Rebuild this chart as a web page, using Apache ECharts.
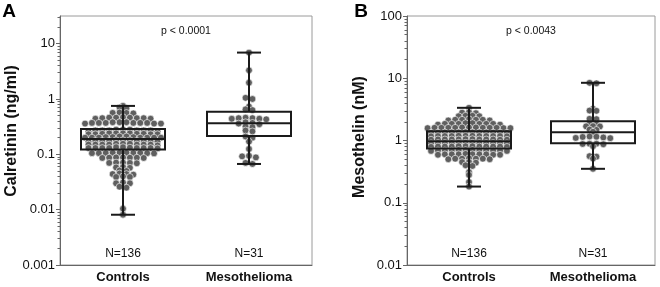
<!DOCTYPE html>
<html>
<head>
<meta charset="utf-8">
<script src="https://cdn.jsdelivr.net/npm/echarts@6/dist/echarts.min.js"></script>
<style>
html,body{margin:0;padding:0;background:#fff;}
#chart{width:660px;height:287px;}
</style>
</head>
<body>
<div id="chart"></div>
<script>
// ---------------- DATA ----------------
const categories = ['Controls', 'Mesothelioma'];

// Panel A: Calretinin (ng/ml)
const calretininControls = [
  0.75,
  0.70, 0.68,
  0.57, 0.56, 0.55, 0.56,
  0.46, 0.45, 0.46, 0.44, 0.45, 0.47, 0.45, 0.46, 0.44,
  0.38, 0.37, 0.37, 0.36, 0.38, 0.37, 0.36, 0.37, 0.38, 0.37, 0.36, 0.37,
  0.28, 0.27, 0.27, 0.26, 0.27, 0.28, 0.27, 0.26, 0.27, 0.27, 0.28,
  0.24, 0.23, 0.235, 0.23, 0.24, 0.235, 0.23, 0.24, 0.23, 0.235, 0.24,
  0.20, 0.205, 0.20, 0.21, 0.20, 0.205, 0.20, 0.20, 0.21, 0.20, 0.205, 0.20,
  0.175, 0.17, 0.18, 0.175, 0.17, 0.175, 0.18, 0.175, 0.17, 0.175, 0.18,
  0.15, 0.155, 0.15, 0.15, 0.155, 0.15, 0.145, 0.15, 0.155, 0.15, 0.15,
  0.13, 0.13, 0.135, 0.13, 0.13, 0.135, 0.13, 0.13, 0.128, 0.13, 0.132,
  0.107, 0.105, 0.106, 0.107, 0.104, 0.106, 0.105, 0.107, 0.106, 0.105,
  0.088, 0.087, 0.086, 0.087, 0.088, 0.086, 0.087,
  0.071, 0.070, 0.069, 0.070, 0.071,
  0.058, 0.057, 0.059,
  0.050, 0.051,
  0.044, 0.045, 0.044, 0.043,
  0.039, 0.040, 0.039,
  0.031, 0.030, 0.030,
  0.026, 0.025,
  0.0104,
  0.0081
];
const calretininMeso = [
  6.9, 3.3, 1.97, 1.05, 1.0, 0.73, 0.65, 0.63,
  0.45, 0.44, 0.46, 0.44, 0.45, 0.43,
  0.38, 0.37, 0.36, 0.35,
  0.32, 0.31, 0.27, 0.26, 0.21, 0.20, 0.17, 0.125,
  0.094, 0.092, 0.088, 0.070, 0.067
];
// [min, Q1, median, Q3, max]
const calretininBox = [
  [0.0081, 0.122, 0.19, 0.288, 0.75],
  [0.067, 0.215, 0.365, 0.59, 6.9]
];

// Panel B: Mesothelin (nM)
const mesothelinControls = [
  3.35,
  2.85, 2.8, 2.75,
  2.5, 2.45, 2.5, 2.45,
  2.15, 2.1, 2.15, 2.2, 2.1, 2.15, 2.15,
  1.85, 1.9, 1.85, 1.8, 1.85, 1.9, 1.85, 1.8, 1.85, 1.85,
  1.6, 1.62, 1.58, 1.6, 1.6, 1.62, 1.58, 1.6, 1.6, 1.62, 1.58, 1.6, 1.6,
  1.35, 1.34, 1.35, 1.33, 1.35, 1.34, 1.36, 1.35, 1.34, 1.35, 1.33, 1.35,
  1.18, 1.19, 1.18, 1.17, 1.18, 1.19, 1.18, 1.18, 1.17, 1.19, 1.18, 1.18,
  1.04, 1.03, 1.04, 1.05, 1.04, 1.03, 1.04, 1.04, 1.03, 1.05, 1.04, 1.04,
  0.91, 0.92, 0.91, 0.90, 0.91, 0.92, 0.91, 0.91, 0.90, 0.92, 0.91, 0.91,
  0.80, 0.81, 0.80, 0.79, 0.80, 0.81, 0.80, 0.80, 0.79, 0.81, 0.80, 0.80,
  0.69, 0.70, 0.69, 0.68, 0.69, 0.70, 0.69, 0.69, 0.68, 0.70, 0.69, 0.69,
  0.60, 0.59, 0.60, 0.61, 0.59, 0.60, 0.60, 0.59, 0.60, 0.60,
  0.51, 0.50, 0.51, 0.52, 0.50, 0.51, 0.51,
  0.45, 0.44, 0.45,
  0.40, 0.39,
  0.31, 0.28, 0.215, 0.182
];
const mesothelinMeso = [
  8.45, 8.3, 3.23, 3.03, 3.0, 2.23, 2.2, 1.82, 1.8,
  1.7, 1.69, 1.68, 1.5, 1.48, 1.38, 1.23,
  1.16, 1.15, 1.14, 1.12, 1.10, 1.09,
  0.89, 0.88, 0.89, 0.87, 0.81, 0.56, 0.55, 0.513, 0.351
];
const mesothelinBox = [
  [0.182, 0.744, 0.975, 1.41, 3.35],
  [0.351, 0.905, 1.36, 2.04, 8.45]
];

const calretininTicks = [0.001, 0.01, 0.1, 1, 10];
const mesothelinTicks = [0.01, 0.1, 1, 10, 100];
const nLabels = ['N=136', 'N=31'];
const pLabels = ['p < 0.0001', 'p < 0.0043'];
const panelLetters = ['A', 'B'];
const yNames = ['Calretinin (ng/ml)', 'Mesothelin (nM)'];

// ---------------- STYLE ----------------
const FONT = "'Liberation Sans', Arial, Helvetica, sans-serif";
const DOT = '#5f5f5f';
const LINE = '#1a1a1a';
const AXIS = '#666';
const BOX_W = 84, CAP_W = 24, DOT_R = 3.4, DOT_GAP = 6.9;

function minorTicks(lo, hi) {
  const out = [];
  for (let e = Math.floor(Math.log10(lo)); e <= Math.ceil(Math.log10(hi)); e++) {
    for (let m = 2; m <= 9; m++) {
      const v = +(m * Math.pow(10, e)).toPrecision(6);
      if (v > lo && v < hi) out.push(v);
    }
  }
  return out;
}

const ranges = [[0.001, Math.pow(10, 1.5)], [0.01, 100]];
const majors = [calretininTicks, mesothelinTicks];

const chart = echarts.init(document.getElementById('chart'), null, {renderer: 'canvas'});

const grids = [
  {left: 60, right: 348, top: 16, bottom: 22},
  {left: 407, right: 5, top: 16, bottom: 22}
].map(g => Object.assign(g, {show: true, borderColor: '#9a9a9a', borderWidth: 1, containLabel: false}));

const xAxes = [0, 1].map(i => ({
  type: 'category', gridIndex: i, data: categories, boundaryGap: true,
  axisLine: {lineStyle: {color: AXIS, width: 1}},
  axisTick: {alignWithLabel: true, length: 4, lineStyle: {color: AXIS}},
  axisLabel: {fontFamily: FONT, fontSize: 13, fontWeight: 'bold', color: '#111', margin: 6},
  splitLine: {show: false}
}));

const yAxes = [];
[0, 1].forEach(i => {
  yAxes.push({
    type: 'log', logBase: 10, gridIndex: i, position: 'left',
    min: ranges[i][0], max: ranges[i][1],
    axisLine: {show: true, lineStyle: {color: AXIS, width: 1}},
    axisTick: {show: true, length: 4, customValues: majors[i], lineStyle: {color: AXIS}},
    axisLabel: {fontFamily: FONT, fontSize: 13, color: '#111', margin: 5,
      customValues: majors[i], formatter: v => String(+(+v).toPrecision(6))},
    splitLine: {show: false}, minorTick: {show: false}
  });
  yAxes.push({
    type: 'log', logBase: 10, gridIndex: i, position: 'left', offset: 0,
    min: ranges[i][0], max: ranges[i][1],
    axisLine: {show: false},
    axisTick: {show: true, length: 2.5, customValues: minorTicks(ranges[i][0], ranges[i][1]), lineStyle: {color: AXIS}},
    axisLabel: {show: false},
    splitLine: {show: false}, minorTick: {show: false}
  });
});

chart.setOption({
  animation: false,
  backgroundColor: '#fff',
  grid: grids,
  xAxis: xAxes,
  yAxis: yAxes,
  series: []
});

// ---------------- SWARM LAYOUT (from axis pixel scale) ----------------
function swarm(values, catIdx, xAxisIndex, yAxisIndex) {
  const pts = values.map(v => ({v, y: chart.convertToPixel({yAxisIndex}, v)}));
  const sorted = pts.slice().sort((a, b) => a.y - b.y);
  const rows = [];
  let cur = null, lastY = null;
  sorted.forEach(p => {
    if (cur && p.y - lastY <= 1.3) cur.push(p); else { cur = [p]; rows.push(cur); }
    lastY = p.y;
  });
  rows.forEach(r => {
    const n = r.length;
    const offs = [];
    for (let i = 0; i < n; i++) offs.push((i - (n - 1) / 2) * DOT_GAP);
    offs.sort((a, b) => Math.abs(a) - Math.abs(b) || a - b);
    r.forEach((p, i) => { p.dx = offs[i]; });
  });
  return pts.map(p => [catIdx, p.v, p.dx]);
}

function dotSeries(data, xi, yi) {
  return {
    type: 'custom', xAxisIndex: xi, yAxisIndex: yi, z: 2,
    encode: {x: 0, y: 1},
    data,
    renderItem: (params, api) => {
      const p = api.coord([api.value(0), api.value(1)]);
      return {type: 'circle', shape: {cx: p[0] + api.value(2), cy: p[1], r: DOT_R},
        style: {fill: DOT, stroke: '#fff', lineWidth: 0.6}};
    }
  };
}

function boxSeries(stats, xi, yi) {
  return {
    type: 'custom', xAxisIndex: xi, yAxisIndex: yi, z: 5,
    encode: {x: 0, y: [1, 2, 3, 4, 5]},
    data: stats.map((s, i) => [i].concat(s)),
    renderItem: (params, api) => {
      const c = api.value(0);
      const pMin = api.coord([c, api.value(1)]);
      const pQ1 = api.coord([c, api.value(2)]);
      const pMed = api.coord([c, api.value(3)]);
      const pQ3 = api.coord([c, api.value(4)]);
      const pMax = api.coord([c, api.value(5)]);
      const cx = Math.round(pQ1[0]);
      const st = {stroke: LINE, lineWidth: 2, fill: null};
      const ln = (x1, y1, x2, y2) => ({type: 'line', shape: {x1, y1, x2, y2}, style: st});
      return {type: 'group', children: [
        ln(cx, pMax[1], cx, pQ3[1]),
        ln(cx, pQ1[1], cx, pMin[1]),
        ln(cx - CAP_W / 2, pMax[1], cx + CAP_W / 2, pMax[1]),
        ln(cx - CAP_W / 2, pMin[1], cx + CAP_W / 2, pMin[1]),
        {type: 'rect', shape: {x: cx - BOX_W / 2, y: pQ3[1], width: BOX_W, height: pQ1[1] - pQ3[1]},
          style: {stroke: LINE, lineWidth: 2, fill: 'rgba(0,0,0,0)'}},
        ln(cx - BOX_W / 2, pMed[1], cx + BOX_W / 2, pMed[1])
      ]};
    }
  };
}

const series = [
  dotSeries(swarm(calretininControls, 0, 0, 0).concat(swarm(calretininMeso, 1, 0, 0)), 0, 0),
  boxSeries(calretininBox, 0, 0),
  dotSeries(swarm(mesothelinControls, 0, 1, 2).concat(swarm(mesothelinMeso, 1, 1, 2)), 1, 2),
  boxSeries(mesothelinBox, 1, 2)
];

// ---------------- TEXT ANNOTATIONS ----------------
const graphic = [];
const letterX = [9, 361];
const nameX = [12, 360];
const nameY = [131, 137];
[0, 1].forEach(i => {
  const c0 = chart.convertToPixel({xAxisIndex: i}, categories[0]);
  const c1 = chart.convertToPixel({xAxisIndex: i}, categories[1]);
  graphic.push({type: 'text', x: letterX[i], y: 12,
    style: {text: panelLetters[i], font: 'bold 19px ' + FONT, fill: '#000', align: 'center', verticalAlign: 'middle'}});
  graphic.push({type: 'text', x: nameX[i], y: nameY[i], rotation: Math.PI / 2,
    style: {text: yNames[i], font: 'bold 16px ' + FONT, fill: '#111', align: 'center', verticalAlign: 'middle'}});
  graphic.push({type: 'text', x: (c0 + c1) / 2, y: 31,
    style: {text: pLabels[i], font: '10.5px ' + FONT, fill: '#111', align: 'center', verticalAlign: 'middle'}});
  [c0, c1].forEach((cx, k) => {
    graphic.push({type: 'text', x: cx, y: 254,
      style: {text: nLabels[k], font: '12px ' + FONT, fill: '#111', align: 'center', verticalAlign: 'middle'}});
  });
});

chart.setOption({series, graphic});
</script>
</body>
</html>
